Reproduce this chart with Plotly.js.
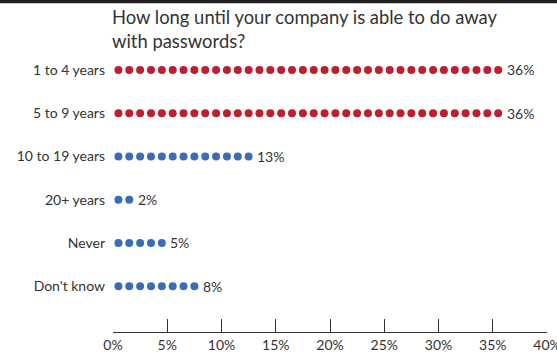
<!DOCTYPE html>
<html>
<head>
<meta charset="utf-8">
<script src="https://cdn.plot.ly/plotly-3.0.1.min.js"></script>
<style>html,body{margin:0;padding:0;background:#fff;}#chart{width:557px;height:354px;}</style>
</head>
<body>
<div id="chart"></div>
<script>
const categories = ["1 to 4 years", "5 to 9 years", "10 to 19 years", "20+ years", "Never", "Don't know"];
const values = [36, 36, 13, 2, 5, 8];
const dotColors = ["#BE1E2D", "#BE1E2D", "#3A6DB9", "#3A6DB9", "#3A6DB9", "#3A6DB9"];
const tickVals = [0, 5, 10, 15, 20, 25, 30, 35, 40];
const tickText = ["0%", "5%", "10%", "15%", "20%", "25%", "30%", "35%", "40%"];
const titleText = "How long until your company is able to do away<br>with passwords?";

const FONT = "Lato, 'Open Sans', sans-serif";
const traces = [];
const annotations = [];
categories.forEach((c, i) => {
  const xs = [], ys = [];
  for (let k = 0; k < values[i]; k++) { xs.push(k + 0.5); ys.push(c); }
  traces.push({
    type: "scatter", mode: "markers", x: xs, y: ys,
    marker: { color: dotColors[i], size: 8, line: { width: 0 } },
    hoverinfo: "skip", showlegend: false, cliponaxis: false
  });
  annotations.push({
    x: values[i], y: c, xref: "x", yref: "y",
    text: values[i] + "%", showarrow: false, xanchor: "left", yanchor: "middle",
    xshift: 1, font: { family: FONT, size: 14, color: "#333" }
  });
});
annotations.push({
  text: titleText, showarrow: false, align: "left",
  xref: "paper", yref: "paper", x: (111 - 113) / 433.7, y: (332 - 5) / 282,
  xanchor: "left", yanchor: "top", borderpad: 0,
  font: { family: FONT, size: 18.4, color: "#333" }
});

const layout = {
  width: 557, height: 354,
  margin: { l: 113, r: 10, t: 50, b: 22 },
  paper_bgcolor: "#fff", plot_bgcolor: "#fff",
  font: { family: FONT, size: 14, color: "#333" },
  xaxis: {
    range: [0, 40], tickvals: tickVals, ticktext: tickText,
    showgrid: false, zeroline: false, showline: true, linecolor: "#333", linewidth: 1,
    ticks: "inside", ticklen: 13, tickcolor: "#333", tickwidth: 1,
    ticklabeloverflow: "allow",
    tickfont: { family: FONT, size: 14, color: "#333" }, fixedrange: true
  },
  yaxis: {
    type: "category", categoryorder: "array", categoryarray: categories,
    range: [6.06, -0.46], showgrid: false, zeroline: false, showline: false,
    ticks: "", ticklabelstandoff: 7,
    tickfont: { family: FONT, size: 14, color: "#333" }, fixedrange: true
  },
  shapes: [{
    type: "rect", xref: "paper", yref: "paper",
    x0: -0.3, x1: 1.1, y0: 1.166, y1: 1.2,
    fillcolor: "#231F20", line: { width: 0 }
  }],
  annotations: annotations
};

Plotly.newPlot("chart", traces, layout, { displayModeBar: false, staticPlot: true });
</script>
</body>
</html>
